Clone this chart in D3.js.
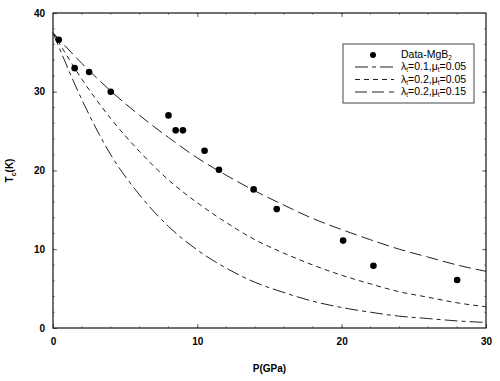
<!DOCTYPE html>
<html>
<head>
<meta charset="utf-8">
<script src="https://cdn.jsdelivr.net/npm/d3@7"></script>
<style>
  body { margin: 0; background: #fff; }
  svg { font-family: "Liberation Sans", Arial, sans-serif; }
</style>
</head>
<body>
<svg></svg>
<script>
const width = 500;
const height = 381;
const margin = { top: 13, right: 14, bottom: 53, left: 53 };

// measured points, Data-MgB2
const dataP = [0.4, 1.5, 2.5, 4, 8, 8.5, 9, 10.5, 11.5, 13.9, 15.5, 20.1, 22.2, 28];
const dataT = [36.6, 33, 32.5, 30, 27, 25.1, 25.1, 22.5, 20.1, 17.6, 15.1, 11.1, 7.9, 6.1];

// model curves
const curveP = [0, 2, 4, 6, 8, 10, 12, 14, 16, 18, 20, 22, 24, 26, 28, 30];
const upperT = [37.5, 33.6, 30.1, 27.0, 24.2, 21.6, 19.4, 17.4, 15.6, 13.9, 12.5, 11.2, 10.0, 9.0, 8.0, 7.2];
const middleT = [37.5, 31.6, 26.6, 22.4, 18.8, 15.9, 13.4, 11.2, 9.5, 8.0, 6.7, 5.6, 4.6, 3.9, 3.2, 2.7];
const lowerT = [37.5, 29.0, 22.0, 16.9, 12.9, 9.9, 7.6, 5.8, 4.5, 3.4, 2.6, 2.0, 1.5, 1.2, 0.9, 0.7];

const xTicks = [0, 10, 20, 30];
const yTicks = [0, 10, 20, 30, 40];

const svg = d3.select("svg").attr("width", width).attr("height", height);

const xScale = d3.scaleLinear().domain([0, 30]).range([margin.left, width - margin.right]);
const yScale = d3.scaleLinear().domain([0, 40]).range([height - margin.bottom, margin.top]);

const x0 = margin.left, x1 = width - margin.right;
const y0 = height - margin.bottom, y1 = margin.top;

// minor ticks every 2 units, all four sides, pointing in
const minorX = d3.range(2, 30, 2);
const minorY = d3.range(2, 40, 2);
const tickG = svg.append("g").attr("stroke", "#999").attr("stroke-width", 1);
minorX.forEach((v) => {
  tickG.append("line").attr("x1", xScale(v)).attr("x2", xScale(v)).attr("y1", y0).attr("y2", y0 - 2);
  tickG.append("line").attr("x1", xScale(v)).attr("x2", xScale(v)).attr("y1", y1).attr("y2", y1 + 2);
});
minorY.forEach((v) => {
  tickG.append("line").attr("y1", yScale(v)).attr("y2", yScale(v)).attr("x1", x0).attr("x2", x0 + 2);
  tickG.append("line").attr("y1", yScale(v)).attr("y2", yScale(v)).attr("x1", x1).attr("x2", x1 - 2);
});

// axes with inward ticks
const xAxis = d3.axisBottom(xScale).tickValues(xTicks).tickSizeInner(-4).tickSizeOuter(0).tickPadding(10);
const yAxis = d3.axisLeft(yScale).tickValues(yTicks).tickSizeInner(-4).tickSizeOuter(0).tickPadding(8);

const gx = svg.append("g").attr("transform", "translate(0," + y0 + ")").call(xAxis);
const gy = svg.append("g").attr("transform", "translate(" + x0 + ",0)").call(yAxis);
[gx, gy].forEach((g) => {
  g.select(".domain").remove();
  g.selectAll("line").attr("stroke", "#666");
  g.selectAll("text").attr("font-size", 10).attr("font-weight", "bold").attr("fill", "#000");
});

// right and top major ticks
svg.append("g").attr("transform", "translate(" + x1 + ",0)")
  .call(d3.axisRight(yScale).tickValues([10, 20, 30]).tickSizeInner(-4).tickSizeOuter(0).tickFormat(""))
  .call((g) => g.select(".domain").remove())
  .selectAll("line").attr("stroke", "#666");
svg.append("g").attr("transform", "translate(0," + y1 + ")")
  .call(d3.axisTop(xScale).tickValues([10, 20]).tickSizeInner(-4).tickSizeOuter(0).tickFormat(""))
  .call((g) => g.select(".domain").remove())
  .selectAll("line").attr("stroke", "#666");

// frame
svg.append("rect")
  .attr("x", x0).attr("y", y1)
  .attr("width", x1 - x0).attr("height", y0 - y1)
  .attr("fill", "none").attr("stroke", "#111").attr("stroke-width", 1.2);

// curves
const line = d3.line()
  .x((d) => xScale(d[0]))
  .y((d) => yScale(d[1]))
  .curve(d3.curveMonotoneX);

const curves = [
  { vals: upperT, dash: "12,5" },
  { vals: middleT, dash: "5,4" },
  { vals: lowerT, dash: "13,4,4,4" },
];

curves.forEach((c) => {
  svg.append("path")
    .datum(curveP.map((p, i) => [p, c.vals[i]]))
    .attr("d", line)
    .attr("fill", "none")
    .attr("stroke", "#222")
    .attr("stroke-width", 1)
    .attr("stroke-dasharray", c.dash);
});

// data points
svg.append("g")
  .selectAll("circle")
  .data(dataP.map((p, i) => [p, dataT[i]]))
  .enter()
  .append("circle")
  .attr("cx", (d) => xScale(d[0]))
  .attr("cy", (d) => yScale(d[1]))
  .attr("r", 3.3)
  .attr("fill", "#000");

// axis titles
svg.append("text")
  .attr("x", (x0 + x1) / 2 + 0).attr("y", 372)
  .attr("text-anchor", "middle")
  .attr("font-size", 10).attr("font-weight", "bold")
  .text("P(GPa)");

const yt = svg.append("text")
  .attr("transform", "translate(13," + ((y0 + y1) / 2) + ") rotate(-90)")
  .attr("text-anchor", "middle")
  .attr("font-size", 10).attr("font-weight", "bold");
yt.append("tspan").text("T");
yt.append("tspan").attr("font-size", 7).attr("dy", 3).text("c");
yt.append("tspan").attr("dy", -3).text("(K)");

// legend
const legend = svg.append("g");
legend.append("rect")
  .attr("x", 343).attr("y", 44).attr("width", 131).attr("height", 59)
  .attr("fill", "#fff").attr("stroke", "#444").attr("stroke-width", 1);

legend.append("circle").attr("cx", 373).attr("cy", 55).attr("r", 3).attr("fill", "#000");
const t0 = legend.append("text").attr("x", 401).attr("y", 58).attr("font-size", 10.5);
t0.append("tspan").text("Data-MgB");
t0.append("tspan").attr("font-size", 6.5).attr("dy", 1.5).text("2");

const legendRows = [
  { l: "0.1", m: "0.05", dash: "13,4,4,4" },
  { l: "0.2", m: "0.05", dash: "5,4" },
  { l: "0.2", m: "0.15", dash: "12,5" },
];
legendRows.forEach((r, i) => {
  const y = 67 + i * 12.5;
  legend.append("line")
    .attr("x1", 355).attr("x2", 394).attr("y1", y).attr("y2", y)
    .attr("stroke", "#222").attr("stroke-width", 1)
    .attr("stroke-dasharray", r.dash);
  const t = legend.append("text").attr("x", 401).attr("y", y + 3).attr("font-size", 10.5);
  t.append("tspan").text("\u03bb");
  t.append("tspan").attr("font-size", 6.5).attr("dy", 2).text("t");
  t.append("tspan").attr("dy", -2).text("=" + r.l + ",\u03bc");
  t.append("tspan").attr("font-size", 6.5).attr("dy", 2).text("t");
  t.append("tspan").attr("dy", -2).text("=" + r.m);
});
</script>
</body>
</html>
